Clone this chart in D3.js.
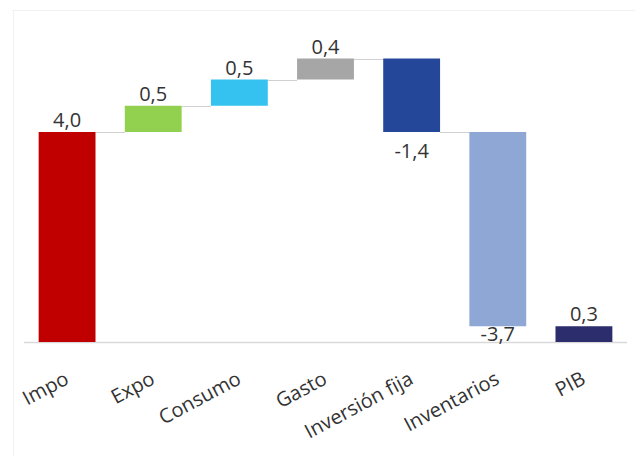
<!DOCTYPE html>
<html><head><meta charset="utf-8">
<script src="https://cdn.jsdelivr.net/npm/d3@7"></script>
<style>html,body{margin:0;padding:0;background:#fff;}</style>
</head><body><svg id="c" width="635" height="456"></svg>
<script>
const categories = ["Impo","Expo","Consumo","Gasto","Inversión fija","Inventarios","PIB"];
const deltas = [4.0, 0.5, 0.5, 0.4, -1.4, -3.7, 0.3];
const isTotal = [false,false,false,false,false,false,true];
const labels = ["4,0","0,5","0,5","0,4","-1,4","-3,7","0,3"];
const colors = ["#C00000","#92D050","#36C2F0","#A6A6A6","#24479A","#8EA7D4","#2B2D6C"];

const svg = d3.select("#c");
const x = d3.scaleBand().domain(categories).range([24,627]).paddingInner(0.34).paddingOuter(0.17);
const y = d3.scaleLinear().domain([0,5.4]).range([342,58.5]);

let run = 0;
const data = categories.map((c,i)=>{
  let start, end;
  if (isTotal[i]) { start = 0; end = deltas[i]; }
  else { start = run; end = run + deltas[i]; }
  run = end;
  return {c, start, end, v:deltas[i], label:labels[i], color:colors[i]};
});

// faint frame
svg.append("line").attr("x1",12).attr("x2",635).attr("y1",10.5).attr("y2",10.5).attr("stroke","#f2f2f2");
svg.append("line").attr("x1",13.5).attr("x2",13.5).attr("y1",10).attr("y2",456).attr("stroke","#f2f2f2");

// axis baseline
svg.append("line").attr("x1",24).attr("x2",627).attr("y1",y(0)+0.5).attr("y2",y(0)+0.5)
  .attr("stroke","#d9d9d9").attr("stroke-width",1.5);

// connectors
for (let i=0;i<data.length-1;i++){
  const lvl = data[i].end;
  const nxt = data[i+1];
  if (isTotal[i+1]) continue;
  svg.append("line")
    .attr("x1",x(data[i].c)+x.bandwidth()).attr("x2",x(nxt.c))
    .attr("y1",Math.round(y(lvl))+0.5).attr("y2",Math.round(y(lvl))+0.5)
    .attr("stroke","#d0d0d0").attr("stroke-width",1);
}

svg.selectAll("rect.bar").data(data).enter().append("rect")
  .attr("class","bar")
  .attr("x",d=>x(d.c)).attr("width",x.bandwidth())
  .attr("y",d=>y(Math.max(d.start,d.end)))
  .attr("height",d=>Math.abs(y(d.start)-y(d.end)))
  .attr("fill",d=>d.color);

svg.selectAll("text.val").data(data).enter().append("text")
  .attr("class","val")
  .attr("x",d=>x(d.c)+x.bandwidth()/2)
  .attr("y",d=> d.v>=0 ? y(d.end)-5 : Math.min(y(d.end)+26, y(0)-1))
  .attr("text-anchor","middle")
  .attr("font-family","'Open Sans', sans-serif")
  .attr("font-size",20)
  .attr("fill","#333")
  .text(d=>d.label);

svg.selectAll("text.cat").data(data).enter().append("text")
  .attr("class","cat")
  .attr("transform",d=>`translate(${x(d.c)+x.bandwidth()/2+3},${383}) rotate(-28)`)
  .attr("text-anchor","end")
  .attr("font-family","'Open Sans', sans-serif")
  .attr("font-size",20)
  .attr("fill","#333")
  .text(d=>d.c);
</script></body></html>
